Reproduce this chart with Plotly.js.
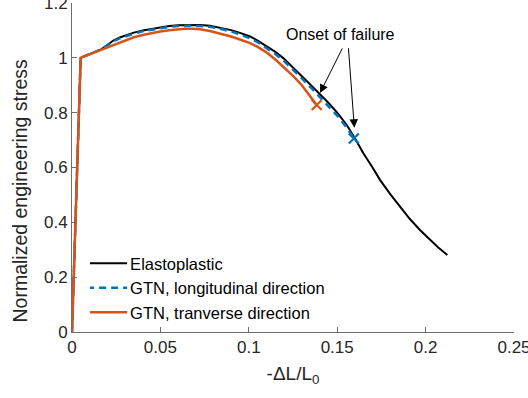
<!DOCTYPE html>
<html>
<head>
<meta charset="utf-8">
<script src="https://cdn.plot.ly/plotly-3.0.1.min.js"></script>
<style>
  html, body { margin: 0; padding: 0; background: #fff; }
  #chart { width: 528px; height: 398px; }
</style>
</head>
<body>
<div id="chart"></div>
<script>
// Elastoplastic response
const elastoX = [0, 0.0049, 0.0168, 0.020, 0.0234, 0.027, 0.031, 0.035, 0.040, 0.045, 0.0498, 0.055, 0.060, 0.0639, 0.068, 0.0724, 0.078, 0.085, 0.090, 0.095, 0.1007, 0.105, 0.110, 0.115, 0.1195, 0.125, 0.130, 0.135, 0.140, 0.145, 0.150, 0.1554, 0.160, 0.1648, 0.170, 0.1742, 0.180, 0.1855, 0.191, 0.1968, 0.202, 0.207, 0.2123];
const elastoY = [0, 1.000, 1.032, 1.046, 1.063, 1.074, 1.084, 1.092, 1.100, 1.106, 1.112, 1.116, 1.119, 1.120, 1.121, 1.120, 1.117, 1.109, 1.101, 1.091, 1.078, 1.063, 1.043, 1.022, 0.999, 0.966, 0.933, 0.901, 0.870, 0.836, 0.800, 0.755, 0.707, 0.652, 0.600, 0.555, 0.503, 0.457, 0.413, 0.372, 0.339, 0.309, 0.281];

// GTN model, longitudinal direction
const longX = [0, 0.0049, 0.0168, 0.020, 0.0234, 0.027, 0.031, 0.035, 0.040, 0.045, 0.0498, 0.055, 0.060, 0.0639, 0.068, 0.0724, 0.078, 0.085, 0.090, 0.095, 0.1007, 0.105, 0.110, 0.115, 0.1195, 0.125, 0.130, 0.135, 0.140, 0.145, 0.150, 0.1554, 0.1594];
const longY = [0, 1.000, 1.032, 1.045, 1.060, 1.071, 1.080, 1.088, 1.097, 1.103, 1.109, 1.113, 1.116, 1.117, 1.117, 1.116, 1.113, 1.104, 1.096, 1.085, 1.071, 1.057, 1.036, 1.014, 0.991, 0.958, 0.925, 0.892, 0.859, 0.824, 0.789, 0.746, 0.706];

// GTN model, transverse direction
const tranX = [0, 0.0049, 0.0168, 0.020, 0.025, 0.031, 0.035, 0.040, 0.045, 0.0498, 0.055, 0.060, 0.0639, 0.068, 0.0724, 0.078, 0.085, 0.090, 0.095, 0.1007, 0.105, 0.110, 0.115, 0.1195, 0.125, 0.130, 0.135, 0.1384];
const tranY = [0, 1.000, 1.030, 1.038, 1.050, 1.066, 1.075, 1.083, 1.090, 1.096, 1.101, 1.104, 1.106, 1.106, 1.104, 1.098, 1.087, 1.078, 1.067, 1.054, 1.040, 1.020, 0.994, 0.968, 0.934, 0.900, 0.858, 0.828];

// Failure onset points
const failLongX = [0.1594];
const failLongY = [0.706];
const failTranX = [0.1384];
const failTranY = [0.828];

// Axis ticks
const xTicks = [0, 0.05, 0.1, 0.15, 0.2, 0.25];
const xTickText = ['0', '0.05', '0.1', '0.15', '0.2', '0.25'];
const yTicks = [0, 0.2, 0.4, 0.6, 0.8, 1.0, 1.2];
const yTickText = ['0', '0.2', '0.4', '0.6', '0.8', '1', '1.2'];

const BLUE = '#0072BD';
const ORANGE = '#D95319';
const FONT = 'Liberation Sans, Arial, sans-serif';

const traces = [
  { x: elastoX, y: elastoY, mode: 'lines', name: 'Elastoplastic',
    line: { color: '#000000', width: 2 } },
  { x: longX, y: longY, mode: 'lines', name: 'GTN, longitudinal direction',
    line: { color: BLUE, width: 2.5, dash: '7px,5px' } },
  { x: tranX, y: tranY, mode: 'lines', name: 'GTN, tranverse direction',
    line: { color: ORANGE, width: 2.5 } },
  { x: failLongX, y: failLongY, mode: 'markers', showlegend: false,
    marker: { symbol: 'x-thin', size: 10, line: { color: BLUE, width: 2.2 } } },
  { x: failTranX, y: failTranY, mode: 'markers', showlegend: false,
    marker: { symbol: 'x-thin', size: 10, line: { color: ORANGE, width: 2.2 } } }
];

const axisCommon = {
  showgrid: false, zeroline: false, showline: true, mirror: false,
  linecolor: '#6e6e6e', linewidth: 1,
  ticks: 'inside', ticklen: 5, tickcolor: '#6e6e6e', tickwidth: 1,
  ticklabeloverflow: 'allow',
  tickfont: { family: FONT, size: 17, color: '#262626' }
};

const layout = {
  width: 528, height: 398,
  margin: { l: 72, r: 14, t: 3, b: 66 },
  paper_bgcolor: '#ffffff', plot_bgcolor: '#ffffff',
  showlegend: true,
  xaxis: Object.assign({}, axisCommon, {
    range: [0, 0.25], tickvals: xTicks, ticktext: xTickText,
    title: { text: '-ΔL/L<sub>0</sub>', font: { family: FONT, size: 19, color: '#262626' }, standoff: 10 }
  }),
  yaxis: Object.assign({}, axisCommon, {
    range: [0, 1.2], tickvals: yTicks, ticktext: yTickText
  }),
  legend: {
    x: 0.041, y: 0.006, xanchor: 'left', yanchor: 'bottom',
    bgcolor: 'rgba(0,0,0,0)', borderwidth: 0,
    font: { family: FONT, size: 16.5, color: '#000000' },
    tracegroupgap: 0
  },
  annotations: [
    { xref: 'paper', yref: 'paper', x: 0, y: 0.43, xshift: -52, xanchor: 'center', yanchor: 'middle',
      text: 'Normalized engineering stress', textangle: -90, showarrow: false,
      font: { family: FONT, size: 19.5, color: '#262626' } },
    { x: 0.1516, y: 1.084, xref: 'x', yref: 'y', text: 'Onset of failure',
      showarrow: false, font: { family: FONT, size: 16, color: '#000000' } },
    { x: 0.1403, y: 0.872, xref: 'x', yref: 'y', text: '', showarrow: true,
      ax: 23, ay: -46, arrowhead: 2, arrowsize: 1.7, arrowwidth: 1, arrowcolor: '#000000' },
    { x: 0.1597, y: 0.745, xref: 'x', yref: 'y', text: '', showarrow: true,
      ax: -6, ay: -81, arrowhead: 2, arrowsize: 1.7, arrowwidth: 1, arrowcolor: '#000000' }
  ]
};

Plotly.newPlot('chart', traces, layout, { staticPlot: true, displayModeBar: false }).then(function (gd) {
  // lengthen the legend line samples to 40px
  gd.querySelectorAll('.legend .legendlines path').forEach(function (p) {
    p.setAttribute('d', 'M-3,0h40');
  });
});
</script>
</body>
</html>
